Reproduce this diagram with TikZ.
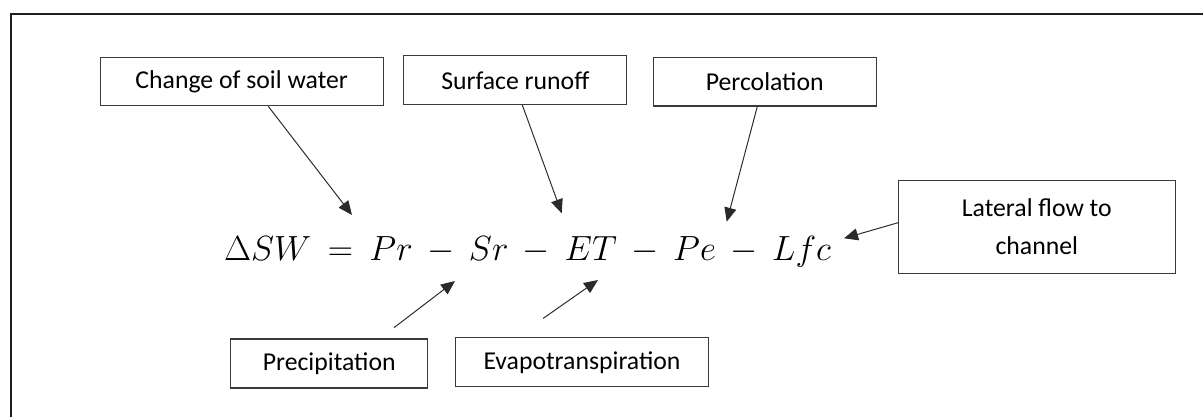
\documentclass[tikz,border=0pt]{standalone}
\usepackage{fontspec}
\usepackage{tikz}
\usetikzlibrary{arrows.meta}
\newfontfamily\lblfont{Carlito}
\definecolor{boxgray}{HTML}{3A3A3A}
\definecolor{linegray}{HTML}{2A2A2A}
\definecolor{framegray}{HTML}{1E1E1E}
\newcommand{\eqgap}{\hspace{0.2em}}
\tikzset{
  termbox/.style={
    rectangle,
    draw=boxgray,
    line width=0.75pt,
    fill=white,
    align=center,
    inner sep=0pt,
    font=\lblfont\fontsize{18.3}{27.5}\selectfont,
    minimum height=1.215cm
  },
  eqn/.style={
    inner sep=0pt,
    font=\fontsize{24}{28}\selectfont
  },
  arrow/.style={-{Triangle[length=3.5mm,width=3mm]},line width=0.7pt,draw=linegray},
  frame/.style={line width=1.4pt,draw=framegray}
}

\begin{document}
\begin{tikzpicture}[x=0.025cm,y=-0.025cm]
    \useasboundingbox (0,0) rectangle (1203,417);
    \draw[frame] (10.7,417) -- (10.7,14) -- (1203,14);

    \node[eqn,anchor=base] (balance) at (527.5,260)
      {$\Delta SW \eqgap=\eqgap Pr \eqgap-\eqgap Sr \eqgap-\eqgap ET \eqgap-\eqgap Pe \eqgap-\eqgap Lfc$};

    \node[termbox,minimum width=7.08cm] (soil) at (241.7,81.5) {Change of soil water};
    \node[termbox,minimum width=5.57cm] (runoff) at (515.3,80.2) {Surface runoff};
    \node[termbox,minimum width=5.57cm] (perc) at (764.7,81.7) {Percolation};
    \node[termbox,minimum width=6.91cm,minimum height=2.33cm] (lateral) at (1036.8,226.7) {Lateral flow to\\channel};
    \node[termbox,minimum width=4.925cm,minimum height=1.225cm] (precip) at (329.2,363.5) {Precipitation};
    \node[termbox,minimum width=6.34cm,minimum height=1.225cm] (evapo) at (582,362.2) {Evapotranspiration};

    \coordinate (tipsoil) at (352,215);
    \coordinate (tiprunoff) at (561.7,213.3);
    \coordinate (tipperc) at (726.7,221.7);
    \coordinate (tiplateral) at (844,238.3);
    \coordinate (tipprecip) at (455,281);
    \coordinate (tipevapo) at (598,280);

    \draw[arrow] ([xshift=0.665cm]soil.south) -- (tipsoil);
    \draw[arrow] ([xshift=0.175cm]runoff.south) -- (tiprunoff);
    \draw[arrow] ([xshift=-0.185cm]perc.south) -- (tipperc);
    \draw[arrow] ([yshift=0.1cm]lateral.west) -- (tiplateral);
    \draw[arrow] ([xshift=1.62cm,yshift=0.27cm]precip.north) -- (tipprecip);
    \draw[arrow] ([xshift=-0.97cm,yshift=0.47cm]evapo.north) -- (tipevapo);
  \end{tikzpicture}
\end{document}
